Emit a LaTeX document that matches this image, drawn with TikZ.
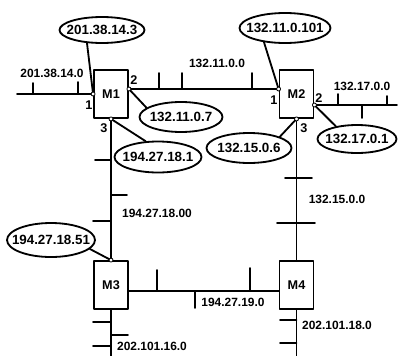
\documentclass[tikz,border=0pt]{standalone}
\usepackage{fontspec}
\setmainfont{Liberation Sans}
\usetikzlibrary{shapes.geometric}
\newcommand{\ipaddr}[1]{\makebox[0pt]{#1}}
\tikzset{
  router/.style={draw, fill=white, minimum width=8.5mm, minimum height=12mm, inner sep=0pt,
    font=\bfseries\fontsize{9}{9}\selectfont},
  addr/.style={draw, ellipse, fill=white, inner sep=0pt, minimum height=7.5mm,
    font=\bfseries\fontsize{9.5}{9.5}\selectfont},
  netname/.style={inner sep=0pt, font=\bfseries\fontsize{8.5}{8.5}\selectfont},
  portnum/.style={inner sep=0pt, font=\bfseries\fontsize{9}{9}\selectfont},
  port/.style={draw, fill=white, line width=0.6pt}
}
\begin{document}
\begin{tikzpicture}[x=0.25mm, y=-0.25mm, line width=1.3pt, line cap=round, line join=round]
  \useasboundingbox (0,0) rectangle (398,355);
  % los routers
  \node[router] (M1) at (111,94) {M1};
  \node[router] (M2) at (296.5,94) {M2};
  \node[router] (M3) at (111,285) {M3};
  \node[router] (M4) at (296.5,285) {M4};
  \coordinate (m1p2) at ([yshift=1.25mm]M1.east);
  \coordinate (m2p1) at ([yshift=1.25mm]M2.west);
  \coordinate (m2p2) at ([yshift=-2.75mm]M2.east);
  \coordinate (m3p2) at ([yshift=-1.5mm]M3.east);
  \coordinate (m4p1) at ([yshift=-1.5mm]M4.west);
  % la red 201.38.14.0
  \coordinate (e1) at (17,94);
  \draw (e1) -- (M1.west);
  \draw (33,94) -- (33,83); \draw (78,94) -- (78,82);
  \node[netname] (n1) at (52,73) {201.38.14.0};
  % la red 132.11.0.0
  \draw (m1p2) -- (m2p1);
  \draw (159,89) -- (159,73); \draw (182,89) -- (182,73); \draw (252,89) -- (252,73);
  \node[netname] (n2) at (217,63) {132.11.0.0};
  % la red 132.17.0.0
  \coordinate (e2) at (397,105);
  \draw (m2p2) -- (e2);
  \draw (338,105) -- (338,94); \draw (362,105) -- (362,118); \draw (387,105) -- (387,96);
  \node[netname] (n3) at (362,86) {132.17.0.0};
  % la red 194.27.18.0
  \draw (M1.south) -- (M3.north);
  \draw (95,160) -- (111,160); \draw (111,195) -- (127,195); \draw (93,221) -- (111,221);
  \node[netname] (n4) at (157,213) {194.27.18.00};
  % la red 132.15.0.0
  \draw (M2.south) -- (M4.north);
  \draw (285,178) -- (312,178); \draw (277,223) -- (315,223);
  \node[netname] (n5) at (337,199) {132.15.0.0};
  % la red 194.27.19.0
  \draw (m3p2) -- (m4p1);
  \draw (157,291) -- (157,270); \draw (250,291) -- (250,268); \draw (195,291) -- (195,308);
  \node[netname] (n6) at (233,302) {194.27.19.0};
  % la red 202.101.16.0
  \coordinate (e3) at (111,356);
  \draw (M3.south) -- (e3);
  \draw (93,322) -- (111,322); \draw (111,335) -- (128,335); \draw (93,346) -- (111,346);
  \node[netname] (n7) at (152,346) {202.101.16.0};
  % la red 202.101.18.0
  \coordinate (e4) at (296.5,356);
  \draw (M4.south) -- (e4);
  \draw (280,320) -- (296.5,320); \draw (280,343) -- (296.5,343);
  \node[netname] (n8) at (337,325) {202.101.18.0};
  % las direcciones
  \node[addr, minimum width=21.25mm, minimum height=6.5mm] (m1i1) at (102,30) {\ipaddr{201.38.14.3}};
  \node[addr, minimum width=20.75mm] (m1i2) at (181,117) {\ipaddr{132.11.0.7}};
  \node[addr, minimum width=21.75mm, minimum height=7.75mm] (m1i3) at (158,157) {\ipaddr{194.27.18.1}};
  \node[addr, minimum width=22.75mm] (m2i1) at (285,28) {\ipaddr{132.11.0.101}};
  \node[addr, minimum width=19.75mm, minimum height=7mm] (m2i2) at (357,139) {\ipaddr{132.17.0.1}};
  \node[addr, minimum width=21.25mm] (m2i3) at (249,148) {\ipaddr{132.15.0.6}};
  \node[addr, minimum width=22mm, minimum height=8.5mm] (m3i1) at (51,240) {\ipaddr{194.27.18.51}};
  \draw (m1i1.221) -- (M1.west);
  \draw (m1i2.165) -- (m1p2);
  \draw (m1i3.128) -- (M1.south);
  \draw (m2i1.214) -- (m2p1);
  \draw (m2i2.149) -- (m2p2);
  \draw (m2i3.20) -- (M2.south);
  \draw (m3i1.347) -- (M3.north);
  % los puertos
  \node[portnum] (p11) at (89,105) {1};
  \node[portnum] (p12) at (134,80) {2};
  \node[portnum] (p13) at (104,128) {3};
  \node[portnum] (p21) at (274,100) {1};
  \node[portnum] (p22) at (319,98) {2};
  \node[portnum] (p23) at (304,128) {3};
  \foreach \p in {M1.west, m1p2, M1.south, m2p1, m2p2, M2.south, M3.north}
    \draw[port] (\p) circle (0.5mm);
\end{tikzpicture}
\end{document}
